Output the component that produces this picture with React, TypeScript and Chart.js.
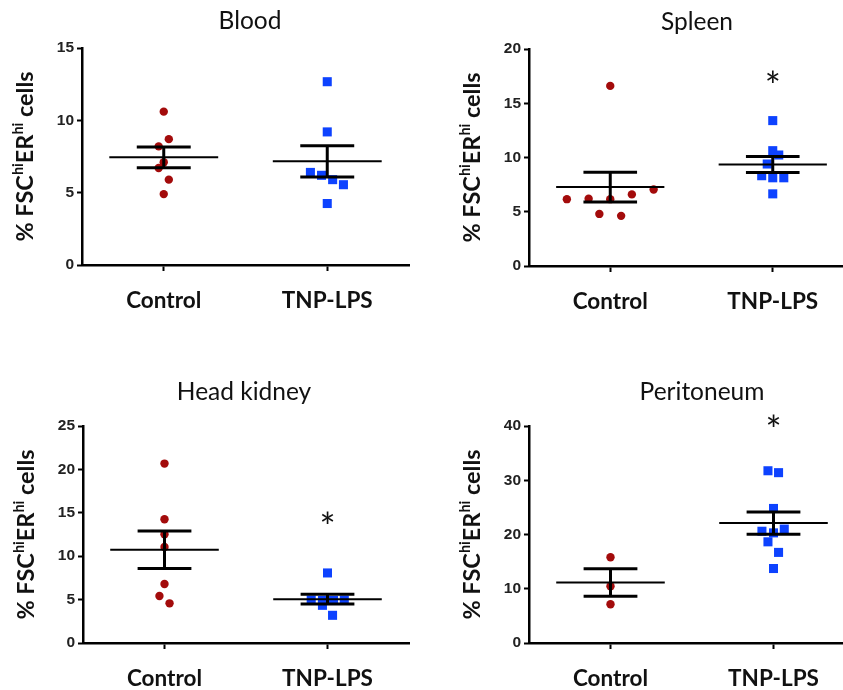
import React, { useEffect, useRef } from 'react';
import { Chart, registerables } from 'chart.js';

Chart.register(...registerables);

// ---------------- data ----------------
const groups = ['Control', 'TNP-LPS'];
const panelTitles = ['Blood', 'Spleen', 'Head kidney', 'Peritoneum'];
const yMaxes = [15, 20, 25, 40];
const ySteps = [5, 5, 5, 10];
const sigMarks: (number | null)[] = [null, 17.5, 14.5, 41.0];

const bloodControl = [10.6, 8.7, 8.2, 7.1, 6.7, 5.9, 4.9];
const bloodControlJitter = [0, 0.031, -0.031, 0, -0.031, 0.031, 0];
const bloodTnp = [12.67, 9.2, 6.4, 6.2, 5.9, 5.55, 4.25];
const bloodTnpJitter = [0, 0, -0.103, -0.035, 0.033, 0.099, 0];

const spleenControl = [16.6, 6.16, 6.2, 6.16, 6.6, 7.05, 4.8, 4.62];
const spleenControlJitter = [0, -0.267, -0.133, 0, 0.133, 0.267, -0.067, 0.067];
const spleenTnp = [13.4, 10.63, 10.23, 9.4, 8.32, 8.13, 8.13, 6.65];
const spleenTnpJitter = [0, 0, 0.037, -0.034, -0.068, 0, 0.068, 0];

const kidneyControl = [20.67, 14.25, 12.52, 11.06, 6.8, 5.42, 4.57];
const kidneyControlJitter = [0, 0, 0, 0, 0, -0.031, 0.031];
const kidneyTnp = [8.07, 4.95, 4.9, 4.9, 4.95, 4.34, 3.19];
const kidneyTnpJitter = [0, -0.1, -0.031, 0.037, 0.103, -0.031, 0.031];

const peritoneumControl = [15.82, 10.47, 7.14];
const peritoneumControlJitter = [0, 0, 0];
const peritoneumTnp = [31.75, 31.4, 24.8, 20.6, 20.3, 21.0, 18.65, 16.7, 13.73];
const peritoneumTnpJitter = [-0.034, 0.031, 0, -0.071, 0, 0.066, -0.034, 0.031, 0];

const controlValues = [bloodControl, spleenControl, kidneyControl, peritoneumControl];
const controlJitters = [bloodControlJitter, spleenControlJitter, kidneyControlJitter, peritoneumControlJitter];
const tnpValues = [bloodTnp, spleenTnp, kidneyTnp, peritoneumTnp];
const tnpJitters = [bloodTnpJitter, spleenTnpJitter, kidneyTnpJitter, peritoneumTnpJitter];

// ---------------- layout / style ----------------
const RED = '#a30b0b';
const BLUE = '#0d42ff';
const layouts = [
  { left: 0, top: 0, viewW: 420, canvasW: 420, h: 320, L: 82, R: 409, T: 48, B: 265, titleX: 250, titleY: 29 },
  { left: 420, top: 0, viewW: 423, canvasW: 445, h: 320, L: 109, R: 434, T: 49, B: 266, titleX: 277, titleY: 30 },
  { left: 0, top: 370, viewW: 420, canvasW: 420, h: 320, L: 83, R: 409, T: 56, B: 273, titleX: 244, titleY: 30 },
  { left: 420, top: 370, viewW: 423, canvasW: 445, h: 320, L: 109, R: 435, T: 56, B: 273, titleX: 282, titleY: 30 },
];

function meanSem(a: number[]) {
  const n = a.length;
  const m = a.reduce((s, v) => s + v, 0) / n;
  const sd = Math.sqrt(a.reduce((s, v) => s + (v - m) * (v - m), 0) / (n - 1));
  return { m, sem: sd / Math.sqrt(n) };
}

function summaryDatasets(values: number[], g: number) {
  const { m, sem } = meanSem(values);
  const base = { showLine: true, pointRadius: 0, pointHoverRadius: 0, borderColor: '#000', order: 1, borderCapStyle: 'butt' };
  return [
    { ...base, borderWidth: 2, data: [{ x: g - 0.333, y: m }, { x: g + 0.333, y: m }] },
    { ...base, borderWidth: 3, data: [{ x: g - 0.165, y: m + sem }, { x: g + 0.165, y: m + sem }] },
    { ...base, borderWidth: 3, data: [{ x: g - 0.165, y: m - sem }, { x: g + 0.165, y: m - sem }] },
    { ...base, borderWidth: 3, data: [{ x: g, y: m - sem }, { x: g, y: m + sem }] },
  ];
}

function drawYLabel(ctx: CanvasRenderingContext2D, cx: number, cy: number) {
  const parts: [string, boolean][] = [['% FSC', false], ['hi', true], ['ER', false], ['hi', true], [' cells', false]];
  const mainFont = 'bold 23.5px Lato';
  const supFont = 'bold 14.5px Lato';
  let total = 0;
  const widths: number[] = [];
  for (const [t, sup] of parts) {
    ctx.font = sup ? supFont : mainFont;
    const w = ctx.measureText(t).width;
    widths.push(w);
    total += w;
  }
  ctx.save();
  ctx.translate(cx, cy);
  ctx.rotate(-Math.PI / 2);
  ctx.fillStyle = '#111';
  ctx.textBaseline = 'alphabetic';
  ctx.textAlign = 'left';
  let x = -total / 2;
  parts.forEach(([t, sup], i) => {
    ctx.font = sup ? supFont : mainFont;
    ctx.fillText(t, x, sup ? -10 : 0);
    x += widths[i];
  });
  ctx.restore();
}

function Panel({ index }: { index: number }) {
  const ref = useRef<HTMLCanvasElement | null>(null);
  const lay = layouts[index];

  useEffect(() => {
    if (!ref.current) return;
    const ctrl = controlValues[index];
    const tnp = tnpValues[index];
    const sig = sigMarks[index];

    const decor = {
      id: 'decor' + index,
      afterDraw(chart: any) {
        const ctx: CanvasRenderingContext2D = chart.ctx;
        const area = chart.chartArea;
        ctx.save();
        // panel title
        ctx.font = '24.5px Lato';
        ctx.fillStyle = '#111';
        ctx.textAlign = 'center';
        ctx.textBaseline = 'alphabetic';
        ctx.fillText(panelTitles[index], lay.titleX, lay.titleY);
        // y axis title with superscripts
        drawYLabel(ctx, area.left - 49, (area.top + area.bottom) / 2);
        // significance mark
        if (sig !== null) {
          const px = chart.scales.x.getPixelForValue(1);
          const py = chart.scales.y.getPixelForValue(sig);
          ctx.font = '38px Lato';
          ctx.textAlign = 'center';
          const mt = ctx.measureText('*');
          const asc = mt.actualBoundingBoxAscent;
          const desc = mt.actualBoundingBoxDescent;
          ctx.fillText('*', px, py + (asc - desc) / 2);
        }
        ctx.restore();
      },
    };

    const chart = new Chart(ref.current, {
      type: 'scatter',
      data: {
        datasets: [
          {
            data: ctrl.map((v, i) => ({ x: 0 + controlJitters[index][i], y: v })),
            pointStyle: 'circle',
            pointRadius: 4.2,
            pointHoverRadius: 4.2,
            backgroundColor: RED,
            borderWidth: 0,
            order: 2,
          },
          {
            data: tnp.map((v, i) => ({ x: 1 + tnpJitters[index][i], y: v })),
            pointStyle: 'rect',
            pointRadius: 6.4,
            pointHoverRadius: 6.4,
            backgroundColor: BLUE,
            borderWidth: 0,
            order: 2,
          },
          ...summaryDatasets(ctrl, 0),
          ...summaryDatasets(tnp, 1),
        ] as any,
      },
      options: {
        animation: false,
        responsive: false,
        maintainAspectRatio: false,
        events: [],
        layout: { padding: { left: 0, top: lay.T, right: lay.canvasW - lay.R, bottom: 0 } },
        plugins: { legend: { display: false }, tooltip: { enabled: false }, title: { display: false } },
        scales: {
          x: {
            type: 'linear',
            min: -0.5,
            max: 1.5,
            afterBuildTicks: (s: any) => {
              s.ticks = groups.map((_, i) => ({ value: i }));
            },
            afterFit: (s: any) => {
              s.height = lay.h - lay.B;
            },
            ticks: {
              callback: (v: any) => groups[v as number] ?? '',
              font: { family: 'Lato', size: 22.5, weight: 'bold' },
              color: '#111',
              padding: 16,
              maxRotation: 0,
              autoSkip: false,
            },
            grid: { drawOnChartArea: false, drawTicks: true, tickLength: 6, tickColor: '#000', tickWidth: 2 },
            border: { display: true, color: '#000', width: 2.5 },
          },
          y: {
            type: 'linear',
            min: 0,
            max: yMaxes[index],
            afterFit: (s: any) => {
              s.width = lay.L;
            },
            ticks: {
              stepSize: ySteps[index],
              font: { family: 'Liberation Sans', size: 15.5, weight: 'bold' },
              color: '#222',
              padding: 3,
            },
            grid: { drawOnChartArea: false, drawTicks: true, tickLength: 5, tickColor: '#000', tickWidth: 2 },
            border: { display: true, color: '#000', width: 2.5 },
          },
        },
      } as any,
      plugins: [decor],
    });
    return () => chart.destroy();
  }, [index]);

  return (
    <div
      style={{
        position: 'absolute',
        left: lay.left,
        top: lay.top,
        width: lay.viewW,
        height: lay.h,
        overflow: 'hidden',
      }}
    >
      <canvas ref={ref} width={lay.canvasW} height={lay.h} style={{ width: lay.canvasW, height: lay.h, display: 'block' }} />
    </div>
  );
}

export default function App() {
  return (
    <div style={{ position: 'absolute', left: 0, top: 0, width: 843, height: 690, background: '#fff', overflow: 'hidden' }}>
      {panelTitles.map((_, i) => (
        <Panel key={i} index={i} />
      ))}
    </div>
  );
}
